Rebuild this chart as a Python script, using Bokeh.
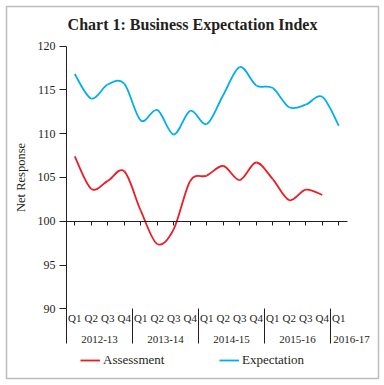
from bokeh.plotting import figure
from bokeh.models import (Range1d, LinearAxis, FixedTicker, Legend, LegendItem,
                          ColumnDataSource, Label, BoxAnnotation)
from bokeh.embed import file_html
from bokeh.resources import INLINE

# ---------------- data ----------------
years = ["2012-13", "2013-14", "2014-15", "2015-16", "2016-17"]
quarters_per_year = [4, 4, 4, 4, 1]
quarters = ["Q1", "Q2", "Q3", "Q4"]
assessment = [107.4, 103.7, 104.6, 105.7, 101.2, 97.4, 99.1, 104.6,
              105.2, 106.3, 104.7, 106.7, 104.8, 102.4, 103.6, 103.0]
expectation = [116.8, 114.0, 115.6, 115.7, 111.5, 112.7, 109.9, 112.6,
               111.1, 114.4, 117.6, 115.5, 115.2, 113.0, 113.3, 114.2, 110.9]
y_ticks = [90, 95, 100, 105, 110, 115, 120]
x_cross = 100
title_text = "Chart 1: Business Expectation Index"
y_label = "Net Response"
series_names = ["Assessment", "Expectation"]
series_colors = ["#ED1C24", "#00AEEF"]

# ---------------- layout (pixels in the canvas, from its top-left) ----------------
W = H = 384
PLOT_L, PLOT_R = 66.0, 346.5      # left / right of the category area
PLOT_T, PLOT_B = 45.5, 308.3      # y of top tick / bottom tick
BOX = (6, 378, 6, 378)            # outer frame: left, right, top, bottom
TITLE_Y = 24
LEGEND_X = [80, 219]
LEGEND_CY = 359.7
FONT = "Liberation Serif"
INK = "#231F20"

cat_labels = [q for n in quarters_per_year for q in quarters[:n]]
n_cat = len(cat_labels)
centers = [i + 0.5 for i in range(n_cat)]
bounds = [0]
for n in quarters_per_year[:-1]:
    bounds.append(bounds[-1] + n)

ppx = (PLOT_R - PLOT_L) / n_cat
ppy = (PLOT_B - PLOT_T) / (y_ticks[-1] - y_ticks[0])
x_range = Range1d(-PLOT_L / ppx, n_cat + (W - PLOT_R) / ppx)
y_range = Range1d(y_ticks[0] - (H - PLOT_B) / ppy, y_ticks[-1] + PLOT_T / ppy)

# year label anchors: centred on the group, or just right of the separator if too narrow
YEAR_LABEL_PX = 36
group_pos = []
s = 0
for n in quarters_per_year:
    if n * ppx >= YEAR_LABEL_PX + 4:
        group_pos.append(s + n / 2)
    else:
        group_pos.append(s + (YEAR_LABEL_PX / 2 + 3) / ppx)
    s += n

p = figure(x_range=x_range, y_range=y_range, width=W, height=H,
           min_border=0, min_border_left=0, min_border_right=0,
           min_border_top=0, min_border_bottom=0,
           x_axis_location=None, y_axis_location=None,
           output_backend="svg", toolbar_location=None,
           background_fill_color="white", border_fill_color="white")
p.outline_line_color = None
p.xgrid.visible = False
p.ygrid.visible = False

# y axis
yax = LinearAxis(fixed_location=0, bounds=(y_ticks[0], y_ticks[-1]),
                 ticker=FixedTicker(ticks=y_ticks, minor_ticks=[]),
                 major_tick_out=7, major_tick_in=0, minor_tick_line_color=None,
                 axis_line_color=INK, major_tick_line_color=INK,
                 major_label_text_font=FONT, major_label_text_font_size="12px",
                 major_label_text_color=INK, major_label_standoff=4,
                 axis_label=y_label, axis_label_text_font=FONT,
                 axis_label_text_font_size="12.5px", axis_label_text_font_style="normal",
                 axis_label_text_color=INK, axis_label_standoff=7)
p.add_layout(yax, "left")

# year separators (minor ticks at group boundaries, hanging below the value axis)
sax = LinearAxis(fixed_location=y_ticks[0], bounds=(0, n_cat),
                 ticker=FixedTicker(ticks=[], minor_ticks=bounds),
                 major_tick_out=0, major_tick_in=0, minor_tick_out=35, minor_tick_in=0,
                 axis_line_color=None, major_tick_line_color=None, minor_tick_line_color=INK,
                 major_label_text_font_size="0px", major_label_text_color=None)
p.add_layout(sax, "below")

# quarter labels
qax = LinearAxis(fixed_location=y_ticks[0], bounds=(0, n_cat),
                 ticker=FixedTicker(ticks=centers, minor_ticks=[]),
                 major_label_overrides={c: lab for c, lab in zip(centers, cat_labels)},
                 major_tick_out=0, major_tick_in=0, axis_line_color=None,
                 major_tick_line_color=None, minor_tick_line_color=None,
                 major_label_text_font=FONT, major_label_text_font_size="11px",
                 major_label_text_color=INK, major_label_standoff=3)
p.add_layout(qax, "below")

# year labels
gax = LinearAxis(fixed_location=y_ticks[0],
                 ticker=FixedTicker(ticks=group_pos, minor_ticks=[]),
                 major_label_overrides={c: yname for c, yname in zip(group_pos, years)},
                 major_tick_out=0, major_tick_in=0, axis_line_color=None,
                 major_tick_line_color=None, minor_tick_line_color=None,
                 major_label_text_font=FONT, major_label_text_font_size="11px",
                 major_label_text_color=INK, major_label_standoff=27)
p.add_layout(gax, "below")

# horizontal axis line crossing at 100 with small ticks
cross = LinearAxis(fixed_location=x_cross, bounds=(0, n_cat),
                   ticker=FixedTicker(ticks=centers, minor_ticks=[]),
                   major_tick_out=4, major_tick_in=0,
                   axis_line_color=INK, major_tick_line_color=INK, minor_tick_line_color=None,
                   major_label_text_font_size="0px", major_label_text_color=None,
                   major_label_standoff=0)
p.add_layout(cross, "below")

# smoothed lines as bezier segments (control points from neighbouring values)
def bezier_source(vals):
    xs = centers[:len(vals)]
    n = len(vals)
    d = dict(x0=[], y0=[], x1=[], y1=[], cx0=[], cy0=[], cx1=[], cy1=[])
    for i in range(n - 1):
        pm = max(i - 1, 0)
        pp = min(i + 2, n - 1)
        d["x0"].append(xs[i]); d["y0"].append(vals[i])
        d["x1"].append(xs[i + 1]); d["y1"].append(vals[i + 1])
        d["cx0"].append(xs[i] + (xs[i + 1] - xs[pm]) / 6)
        d["cy0"].append(vals[i] + (vals[i + 1] - vals[pm]) / 6)
        d["cx1"].append(xs[i + 1] - (xs[pp] - xs[i]) / 6)
        d["cy1"].append(vals[i + 1] - (vals[pp] - vals[i]) / 6)
    return ColumnDataSource(d)

items = []
for name, vals, col in zip(series_names, [assessment, expectation], series_colors):
    r = p.bezier(x0="x0", y0="y0", x1="x1", y1="y1", cx0="cx0", cy0="cy0",
                 cx1="cx1", cy1="cy1", source=bezier_source(vals),
                 line_color=col, line_width=1.8)
    items.append(LegendItem(label=name, renderers=[r]))

for item, lx in zip(items, LEGEND_X):
    lg = Legend(items=[item], location=(lx, H - LEGEND_CY - 10), orientation="horizontal",
                padding=0, margin=0, border_line_color=None, background_fill_alpha=0,
                label_text_font=FONT, label_text_font_size="13px", label_text_color=INK,
                glyph_width=20, glyph_height=20, label_standoff=3)
    p.add_layout(lg)

# title
p.add_layout(Label(x=W / 2, y=H - TITLE_Y, x_units="screen", y_units="screen", text=title_text,
                   text_font=FONT, text_font_size="16px", text_font_style="bold",
                   text_color=INK, text_align="center", text_baseline="middle"))

# outer border
p.add_layout(BoxAnnotation(left=BOX[0], right=BOX[1], top=H - BOX[2], bottom=H - BOX[3],
                           left_units="screen", right_units="screen",
                           top_units="screen", bottom_units="screen",
                           fill_alpha=0, line_color=INK, line_width=1.5))

open("out.html", "w").write(file_html(p, INLINE))
